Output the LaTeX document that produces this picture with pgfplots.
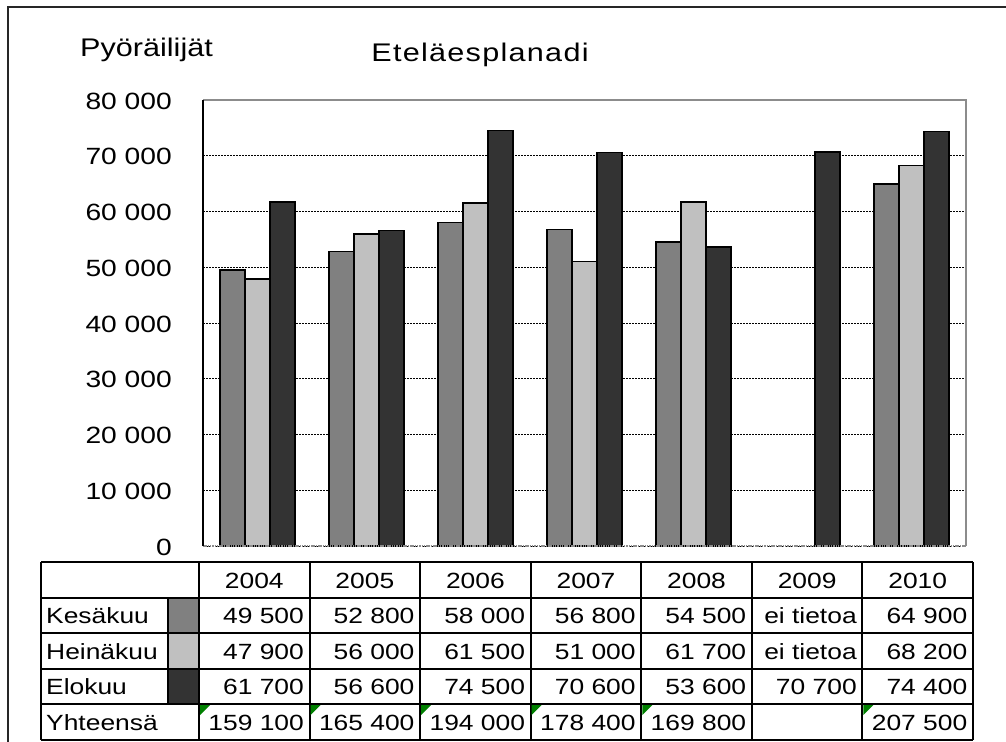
\documentclass[border=0pt]{standalone}
\usepackage{fontspec}
\setmainfont{Liberation Sans}[FakeStretch=1.2]
\usepackage{pgfplots}
\pgfplotsset{compat=1.18}
\definecolor{kes}{HTML}{808080}
\definecolor{hei}{HTML}{C0C0C0}
\definecolor{elo}{HTML}{333333}
\definecolor{frm}{HTML}{8C8C8C}
\definecolor{errgreen}{HTML}{008000}
\begin{document}
\begin{tikzpicture}
\useasboundingbox (0,0) rectangle (1006bp,-742bp);
\fill[white] (0,0) rectangle (1006bp,-742bp);
\draw[line width=2bp, black!85] (8bp,-742bp) -- (8bp,-7bp) -- (1006bp,-7bp);
\begin{axis}[
  at={(203bp,-546bp)}, anchor=south west,
  scale only axis, width=763bp, height=446bp,
  xmin=-0.5, xmax=6.5, ymin=0, ymax=80000,
  xtick=\empty,
  scaled y ticks=false,
  ytick={0,10000,20000,30000,40000,50000,60000,70000,80000},
  yticklabels={0,10 000,20 000,30 000,40 000,50 000,60 000,70 000,80 000},
  major tick length=0pt,
  yticklabel style={font=\fontsize{23.5bp}{26bp}\selectfont, anchor=east, inner sep=0pt, xshift=-31bp, yshift=-1bp},
  ymajorgrids,
  major grid style={black, line width=1bp, dash pattern=on 1.5bp off 1.5bp},
  axis line style={draw=none},
  ybar, bar width=0.229,
  clip=false,
]
\addplot[fill=kes, draw=black, line width=1.4bp, bar shift=-0.229] coordinates
  {(0,49500) (1,52800) (2,58000) (3,56800) (4,54500) (6,64900)};
\addplot[fill=hei, draw=black, line width=1.4bp, bar shift=0] coordinates
  {(0,47900) (1,56000) (2,61500) (3,51000) (4,61700) (6,68200)};
\addplot[fill=elo, draw=black, line width=1.4bp, bar shift=0.229] coordinates
  {(0,61700) (1,56600) (2,74500) (3,70600) (4,53600) (5,70700) (6,74400)};
\draw[frm, line width=1.5bp] (rel axis cs:0,1) -- (rel axis cs:1,1) -- (rel axis cs:1,0);
\draw[frm, line width=1.5bp, dash pattern=on 1.5bp off 0.8bp] (rel axis cs:0,0) -- (rel axis cs:1,0);
\draw[black, line width=1.6bp] (rel axis cs:0,0) -- (rel axis cs:0,1);
\end{axis}
% titles
\node[anchor=base west, inner sep=0pt] at (80bp,-56bp) {\fontsize{25.5bp}{30bp}\selectfont Pyöräilijät};
\node[anchor=base, inner sep=0pt] at (480bp,-61bp) {\fontsize{25.5bp}{30bp}\selectfont\addfontfeature{LetterSpace=5}Eteläesplanadi};
% data table
\def\tfont{\fontsize{22bp}{25bp}\selectfont}
\fill[kes] (169bp,-599bp) rectangle (198bp,-632bp);
\fill[hei] (169bp,-634bp) rectangle (198bp,-668bp);
\fill[elo] (169bp,-670bp) rectangle (198bp,-703bp);
\foreach \yy in {562,598,633,669,704,740} {
  \draw[black, line width=2bp] (41bp,-\yy bp) -- (973bp,-\yy bp);
}
\draw[black, line width=2bp] (41bp,-562bp) -- (41bp,-740bp);
\draw[black, line width=2bp] (168bp,-598bp) -- (168bp,-704bp);
\foreach \i in {0,...,7} {
  \pgfmathsetmacro{\xx}{199+110.57*\i}
  \draw[black, line width=2bp] (\xx bp,-562bp) -- (\xx bp,-740bp);
}
% green error indicators
\foreach \i in {0,1,2,3,4,6} {
  \pgfmathsetmacro{\xx}{200+110.57*\i}
  \fill[errgreen] (\xx bp,-705bp) -- (\xx bp+10bp,-705bp) -- (\xx bp,-715bp) -- cycle;
}
% header years
\foreach \yr [count=\i from 0] in {2004,2005,2006,2007,2008,2009,2010} {
  \pgfmathsetmacro{\xc}{199+110.57*\i+55.285}
  \node[anchor=base, inner sep=0pt] at (\xc bp,-588bp) {\tfont \yr};
}
% row labels
\node[anchor=base west, inner sep=0pt] at (46bp,-623bp) {\tfont Kesäkuu};
\node[anchor=base west, inner sep=0pt] at (46bp,-659bp) {\tfont Heinäkuu};
\node[anchor=base west, inner sep=0pt] at (46bp,-694bp) {\tfont Elokuu};
\node[anchor=base west, inner sep=0pt] at (46bp,-730bp) {\tfont Yhteensä};
% values
\foreach \v [count=\i from 1] in {49 500,52 800,58 000,56 800,54 500,ei tietoa,64 900} {
  \pgfmathsetmacro{\xr}{199+110.57*\i-5.5}
  \node[anchor=base east, inner sep=0pt] at (\xr bp,-623bp) {\tfont \v};
}
\foreach \v [count=\i from 1] in {47 900,56 000,61 500,51 000,61 700,ei tietoa,68 200} {
  \pgfmathsetmacro{\xr}{199+110.57*\i-5.5}
  \node[anchor=base east, inner sep=0pt] at (\xr bp,-659bp) {\tfont \v};
}
\foreach \v [count=\i from 1] in {61 700,56 600,74 500,70 600,53 600,70 700,74 400} {
  \pgfmathsetmacro{\xr}{199+110.57*\i-5.5}
  \node[anchor=base east, inner sep=0pt] at (\xr bp,-694bp) {\tfont \v};
}
\foreach \v [count=\i from 1] in {159 100,165 400,194 000,178 400,169 800,{},207 500} {
  \pgfmathsetmacro{\xr}{199+110.57*\i-5.5}
  \node[anchor=base east, inner sep=0pt] at (\xr bp,-730bp) {\tfont \v};
}
\end{tikzpicture}
\end{document}
